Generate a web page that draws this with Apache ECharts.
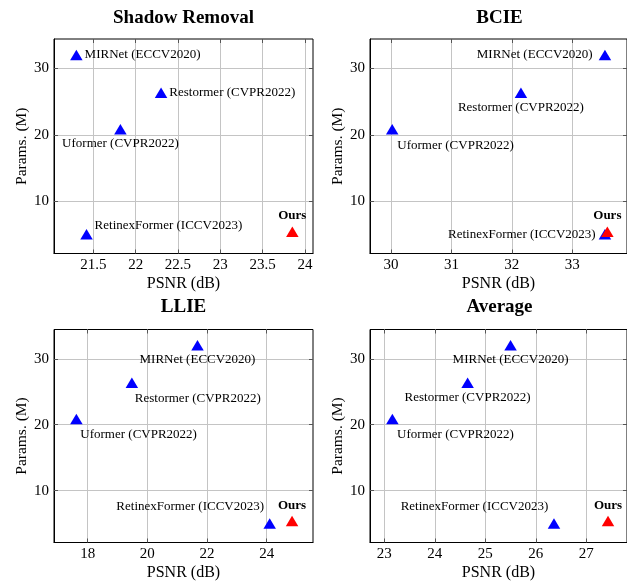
<!DOCTYPE html>
<html><head><meta charset="utf-8">
<script src="https://cdn.jsdelivr.net/npm/echarts@6/dist/echarts.min.js"></script>
<style>html,body{margin:0;padding:0;background:#fff}#c{width:627px;height:582px}</style>
</head><body><div id="c"></div>
<script>
// ---------- data ----------
const panelTitles = ['Shadow Removal', 'BCIE', 'LLIE', 'Average'];
const methods = ['MIRNet (ECCV2020)', 'Restormer (CVPR2022)', 'Uformer (CVPR2022)', 'RetinexFormer (ICCV2023)'];
const oursName = 'Ours';
const paramsM = [31.79, 26.1, 20.6, 4.75];
const oursParamsM = 5.12;
const psnrShadow  = [21.30, 22.30, 21.82, 21.42];
const psnrBCIE    = [33.54, 32.15, 30.02, 33.54];
const psnrLLIE    = [21.68, 19.48, 17.62, 24.10];
const psnrAverage = [25.50, 24.65, 23.16, 26.36];
const oursPsnr    = [23.85, 33.58, 24.85, 27.43];
const yTicks = [10, 20, 30];
const xTicksShadow  = [21.5, 22, 22.5, 23, 23.5, 24];
const xTicksBCIE    = [30, 31, 32, 33];
const xTicksLLIE    = [18, 20, 22, 24];
const xTicksAverage = [23, 24, 25, 26, 27];
const xAxisName = 'PSNR (dB)';
const yAxisName = 'Params. (M)';

// ---------- layout / style ----------
const psnrSets = [psnrShadow, psnrBCIE, psnrLLIE, psnrAverage];
const xTickSets = [xTicksShadow, xTicksBCIE, xTicksLLIE, xTicksAverage];
const xRanges = [[21.036, 24.094], [29.6525, 33.905], [16.870, 25.552], [22.717, 27.806]];
const yRange = [2.12, 34.45];
const grids = [
  {left: 54, top: 39, width: 259, height: 214.5},
  {left: 370, top: 39, width: 257, height: 214.5},
  {left: 54, top: 329.5, width: 259, height: 214.5},
  {left: 370, top: 329.5, width: 257, height: 214.5}
];
const titlePos = [[183.5, 9], [499.5, 9], [183.5, 298], [499.5, 298]];
const R = (dx, dy) => ({position: [dx, dy], align: 'left', verticalAlign: 'middle'});
const L = (dx, dy) => ({position: [dx, dy], align: 'right', verticalAlign: 'middle'});
const labelSpecs = [
  [{position: 'right', distance: 2}, {position: 'right', distance: 2}, {position: 'bottom', distance: 3}, R(14.3, -3.8)],
  [{position: 'left', distance: 6}, {position: 'bottom', distance: 3}, R(11.3, 21.2), {position: 'left', distance: 3}],
  [{position: 'bottom', distance: 3}, R(9.2, 20.8), R(10.2, 20.8), L(0.6, -11.8)],
  [{position: 'bottom', distance: 3}, {position: 'bottom', distance: 3}, R(11, 21), L(0.6, -11.8)]
];
const FONT = '"Liberation Serif", "Times New Roman", serif';
const symSize = [12.5, 10.5];
const symOff = [0, -1.75];
const gridColor = '#c4c4c4';
const tickColor = '#555';

const mainX = grids.map((g, i) => ({
  type: 'value', gridIndex: i, min: xRanges[i][0], max: xRanges[i][1],
  name: xAxisName, nameLocation: 'middle', nameGap: 22.5,
  nameTextStyle: {fontFamily: FONT, fontSize: 16, color: '#000'},
  axisLine: {show: true, onZero: false, lineStyle: {color: '#000', width: 1}},
  axisTick: {show: true, inside: true, length: 4, customValues: xTickSets[i], lineStyle: {color: tickColor}},
  axisLabel: {customValues: xTickSets[i], fontFamily: FONT, fontSize: 15, color: '#000', margin: 4},
  splitLine: {show: true, lineStyle: {color: gridColor, width: 1}}
}));
const mirrorX = grids.map((g, i) => ({
  type: 'value', gridIndex: i, position: 'top', min: xRanges[i][0], max: xRanges[i][1],
  axisLine: {show: false, onZero: false},
  axisTick: {show: true, inside: true, length: 4, customValues: xTickSets[i], lineStyle: {color: tickColor}},
  axisLabel: {show: false}, splitLine: {show: false}
}));
const mainY = grids.map((g, i) => ({
  type: 'value', gridIndex: i, min: yRange[0], max: yRange[1],
  name: yAxisName, nameLocation: 'middle', nameGap: 24,
  nameTextStyle: {fontFamily: FONT, fontSize: 15.5, color: '#000'},
  axisLine: {show: true, onZero: false, lineStyle: {color: '#000', width: 1}},
  axisTick: {show: true, inside: true, length: 4, customValues: yTicks, lineStyle: {color: tickColor}},
  axisLabel: {customValues: yTicks, fontFamily: FONT, fontSize: 15, color: '#000', margin: 5},
  splitLine: {show: true, lineStyle: {color: gridColor, width: 1}}
}));
const mirrorY = grids.map((g, i) => ({
  type: 'value', gridIndex: i, position: 'right', min: yRange[0], max: yRange[1],
  axisLine: {show: false, onZero: false},
  axisTick: {show: true, inside: true, length: 4, customValues: yTicks, lineStyle: {color: tickColor}},
  axisLabel: {show: false}, splitLine: {show: false}
}));

const option = {
  animation: false,
  grid: grids.map(g => Object.assign({show: true, borderColor: '#000', borderWidth: 1, containLabel: false}, g)),
  xAxis: mainX.concat(mirrorX),
  yAxis: mainY.concat(mirrorY),
  graphic: panelTitles.map((t, i) => ({
    type: 'text', x: titlePos[i][0], y: titlePos[i][1], silent: true,
    style: {text: t, align: 'center', verticalAlign: 'top', fontFamily: FONT, fontSize: 19, fontWeight: 'bold', fill: '#000'}
  })),
  series: []
};

psnrSets.forEach((xs, i) => {
  option.series.push({
    type: 'scatter', xAxisIndex: i, yAxisIndex: i, symbol: 'triangle', symbolSize: symSize, symbolOffset: symOff,
    itemStyle: {color: '#0000ff', opacity: 1}, silent: true, z: 3,
    label: {show: true, formatter: '{b}', fontFamily: FONT, fontSize: 13, color: '#000'},
    labelLayout: {hideOverlap: false},
    data: methods.map((m, j) => ({name: m, value: [xs[j], paramsM[j]], label: labelSpecs[i][j]}))
  });
  option.series.push({
    type: 'scatter', xAxisIndex: i, yAxisIndex: i, symbol: 'triangle', symbolSize: symSize, symbolOffset: symOff,
    itemStyle: {color: '#ff0000', opacity: 1}, silent: true, z: 4,
    label: {show: true, formatter: '{b}', position: 'top', distance: 4, fontFamily: FONT, fontSize: 13, fontWeight: 'bold', color: '#000'},
    data: [{name: oursName, value: [oursPsnr[i], oursParamsM]}]
  });
});

const chart = echarts.init(document.getElementById('c'), null, {renderer: 'canvas'});
chart.setOption(option);
</script>
</body></html>
